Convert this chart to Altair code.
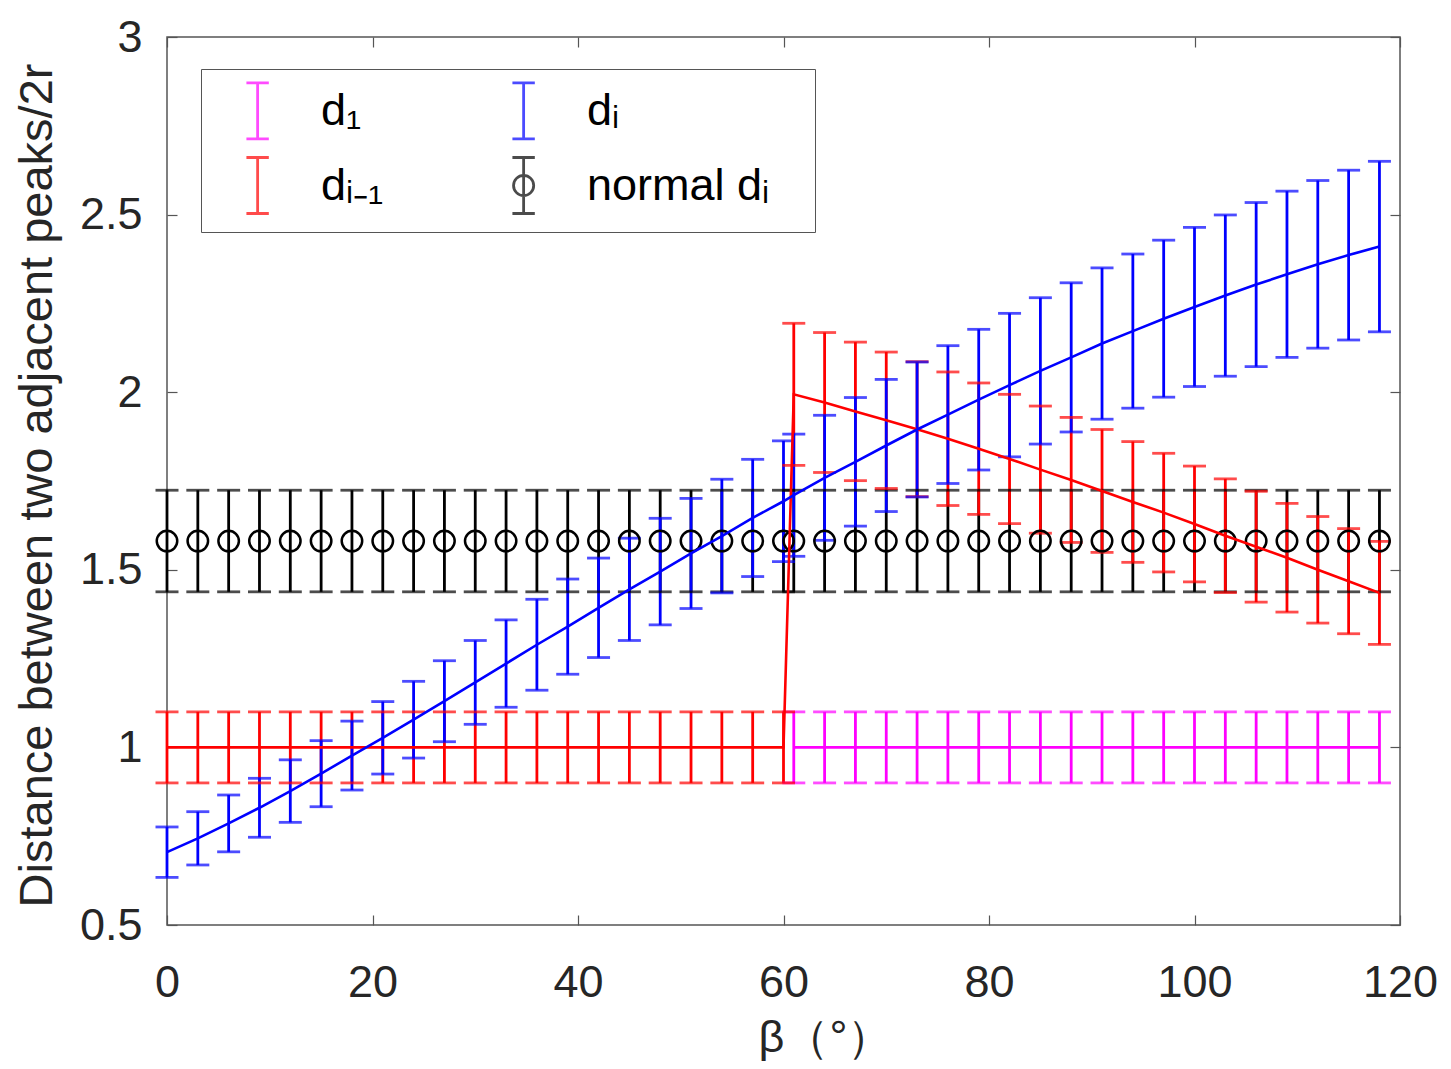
import altair as alt
import pandas as pd

# ---------------- data ----------------
beta = [0, 3, 6, 9, 12, 15, 18, 21, 24, 27, 30, 33, 36, 39, 42, 45, 48, 51, 54, 57, 60,
        61, 64, 67, 70, 73, 76, 79, 82, 85, 88, 91, 94, 97, 100, 103, 106, 109, 112, 115, 118]
beta_right = [61, 64, 67, 70, 73, 76, 79, 82, 85, 88, 91, 94, 97, 100, 103, 106, 109, 112, 115, 118]

# d_i (blue)
di_mean = [0.705, 0.744, 0.786, 0.830, 0.877, 0.926, 0.977, 1.027, 1.078, 1.130, 1.183,
           1.236, 1.289, 1.340, 1.393, 1.445, 1.495, 1.546, 1.595, 1.646, 1.693,
           1.710, 1.759, 1.804, 1.850, 1.895, 1.937, 1.979, 2.020, 2.060, 2.098,
           2.137, 2.172, 2.207, 2.240, 2.272, 2.303, 2.332, 2.360, 2.386, 2.410]
di_err = [0.071, 0.075, 0.080, 0.083, 0.088, 0.093, 0.097, 0.102, 0.108, 0.114, 0.118,
          0.123, 0.128, 0.134, 0.140, 0.144, 0.150, 0.155, 0.160, 0.165, 0.170,
          0.172, 0.176, 0.181, 0.186, 0.190, 0.194, 0.198, 0.202, 0.206, 0.210,
          0.213, 0.217, 0.221, 0.224, 0.227, 0.231, 0.234, 0.236, 0.239, 0.240]

# d_{i-1} (red)
dim1_mean = [1.0, 1.0, 1.0, 1.0, 1.0, 1.0, 1.0, 1.0, 1.0, 1.0, 1.0,
             1.0, 1.0, 1.0, 1.0, 1.0, 1.0, 1.0, 1.0, 1.0, 1.0,
             1.994, 1.971, 1.946, 1.921, 1.896, 1.869, 1.841, 1.812, 1.782, 1.753,
             1.722, 1.691, 1.661, 1.629, 1.596, 1.565, 1.534, 1.500, 1.468, 1.435]
dim1_err = [0.1, 0.1, 0.1, 0.1, 0.1, 0.1, 0.1, 0.1, 0.1, 0.1, 0.1,
            0.1, 0.1, 0.1, 0.1, 0.1, 0.1, 0.1, 0.1, 0.1, 0.1,
            0.200, 0.197, 0.195, 0.192, 0.190, 0.188, 0.185, 0.182, 0.179, 0.176,
            0.173, 0.170, 0.167, 0.163, 0.160, 0.156, 0.153, 0.150, 0.148, 0.145]

# d_1 (magenta)
d1_mean = [1.0, 1.0, 1.0, 1.0, 1.0, 1.0, 1.0, 1.0, 1.0, 1.0,
           1.0, 1.0, 1.0, 1.0, 1.0, 1.0, 1.0, 1.0, 1.0, 1.0]
d1_err = [0.1, 0.1, 0.1, 0.1, 0.1, 0.1, 0.1, 0.1, 0.1, 0.1,
          0.1, 0.1, 0.1, 0.1, 0.1, 0.1, 0.1, 0.1, 0.1, 0.1]

# normal d_i (black)
normal_mean = [1.581, 1.581, 1.581, 1.581, 1.581, 1.581, 1.581, 1.581, 1.581, 1.581, 1.581,
               1.581, 1.581, 1.581, 1.581, 1.581, 1.581, 1.581, 1.581, 1.581, 1.581,
               1.581, 1.581, 1.581, 1.581, 1.581, 1.581, 1.581, 1.581, 1.581, 1.581,
               1.581, 1.581, 1.581, 1.581, 1.581, 1.581, 1.581, 1.581, 1.581, 1.581]
normal_err = [0.143, 0.143, 0.143, 0.143, 0.143, 0.143, 0.143, 0.143, 0.143, 0.143, 0.143,
              0.143, 0.143, 0.143, 0.143, 0.143, 0.143, 0.143, 0.143, 0.143, 0.143,
              0.143, 0.143, 0.143, 0.143, 0.143, 0.143, 0.143, 0.143, 0.143, 0.143,
              0.143, 0.143, 0.143, 0.143, 0.143, 0.143, 0.143, 0.143, 0.143, 0.143]

# legend order (filled column by column): d1, d_{i-1} | d_i, normal d_i
series_names = ["d₁", "dᵢ₋₁", "dᵢ", "normal dᵢ"]
series_colors = ["#FF00FF", "#FF0000", "#0000FF", "#000000"]
x_ticks = [0, 20, 40, 60, 80, 100, 120]
y_ticks = [0.5, 1, 1.5, 2, 2.5, 3]

# ---------------- table ----------------
color_of = dict(zip(series_names, series_colors))
rows = []
for k, (name, xs_, ms, es) in enumerate([
        ("normal dᵢ", beta, normal_mean, normal_err),
        ("d₁", beta_right, d1_mean, d1_err),
        ("dᵢ₋₁", beta, dim1_mean, dim1_err),
        ("dᵢ", beta, di_mean, di_err)]):
    for x, m, e in zip(xs_, ms, es):
        rows.append({"series": name, "col": color_of[name], "beta": x, "mean": m,
                     "lo": m - e, "hi": m + e, "k": k})
df = pd.DataFrame(rows)

FONT = "Liberation Sans"
TXT = "#262626"
TICK = "#555555"

color_scale = alt.Scale(domain=series_names, range=series_colors)
bar_path = "M0.54,-1L0.54,1M0.14,-1L0.94,-1M0.14,1L0.94,1"
circ_path = bar_path + "M0.9,0A0.36,0.36 0 1 1 0.18,0A0.36,0.36 0 1 1 0.9,0"
shape_scale = alt.Scale(domain=series_names, range=[bar_path, bar_path, bar_path, circ_path])

xs = alt.Scale(domain=[0, 120], nice=False, zero=False)
ys = alt.Scale(domain=[0.5, 3], nice=False, zero=False)

axis_bottom = alt.Axis(orient="bottom", values=x_ticks, domain=False, grid=False,
                       tickSize=10, offset=-10, tickColor=TICK, tickWidth=1.2,
                       labelFlush=False, labelOverlap=False,
                       labelPadding=35, labelFontSize=45, labelFont=FONT, labelColor=TXT,
                       title="β（°）", titleFontSize=45, titleFont=FONT, titleColor=TXT,
                       titleFontWeight="normal", titleAlign="left", titleBaseline="alphabetic",
                       titleX=591, titleY=136)
axis_left = alt.Axis(orient="left", values=y_ticks, domain=False, grid=False,
                     tickSize=10, offset=-10, tickColor=TICK, tickWidth=1.2,
                     labelFlush=False, labelOverlap=False,
                     labelPadding=25, labelFontSize=45, labelFont=FONT, labelColor=TXT,
                     format="~g",
                     title="Distance between two adjacent peaks/2r", titleFontSize=47,
                     titleFont=FONT, titleColor=TXT, titleFontWeight="normal",
                     titleAngle=270, titleAlign="center", titleBaseline="alphabetic",
                     titleX=-126, titleY=448)
axis_top = alt.Axis(orient="top", values=x_ticks, domain=False, grid=False, labels=False,
                    tickSize=10, offset=-10, tickColor=TICK, tickWidth=1.2, title=None)
axis_right = alt.Axis(orient="right", values=y_ticks, domain=False, grid=False, labels=False,
                      tickSize=10, offset=-10, tickColor=TICK, tickWidth=1.2, title=None)

base = alt.Chart(df)

bars = base.mark_rule(strokeWidth=2.8).encode(
    x=alt.X("beta:Q", scale=xs, axis=axis_bottom),
    y=alt.Y("lo:Q", scale=ys, axis=axis_left),
    y2="hi:Q",
    color=alt.Color("col:N", scale=None),
    order="k:Q",
)
caps_hi = base.mark_tick(orient="horizontal", size=23, thickness=2.8).encode(
    x=alt.X("beta:Q", scale=xs, axis=None),
    y=alt.Y("hi:Q", scale=ys, axis=None),
    color=alt.Color("col:N", scale=None),
    order="k:Q",
)
caps_lo = base.mark_tick(orient="horizontal", size=23, thickness=2.8).encode(
    x=alt.X("beta:Q", scale=xs, axis=None),
    y=alt.Y("lo:Q", scale=ys, axis=None),
    color=alt.Color("col:N", scale=None),
    order="k:Q",
)
circles = base.transform_filter(alt.datum.series == "normal dᵢ").mark_point(
    shape="circle", filled=False, size=420, strokeWidth=2.5, color="#000000", opacity=1
).encode(
    x=alt.X("beta:Q", scale=xs, axis=axis_top),
    y=alt.Y("mean:Q", scale=ys, axis=axis_right),
)
lines = base.transform_filter(alt.datum.series != "normal dᵢ").mark_line(strokeWidth=2.6).encode(
    x=alt.X("beta:Q", scale=xs, axis=None),
    y=alt.Y("mean:Q", scale=ys, axis=None),
    color=alt.Color("col:N", scale=None),
    detail="series:N",
    order="beta:Q",
)

leg_props = dict(orient="none", legendX=34, legendY=32, columns=2, title=None,
                 symbolSize=3136, symbolStrokeWidth=2.8, symbolOpacity=1,
                 labelFontSize=45, labelFont=FONT, labelColor="#000000", labelLimit=500,
                 labelExpr="indexof(datum.label, 'normal') >= 0 ? datum.label + '\u2800' : datum.label",
                 labelOffset=49, padding=12, rowPadding=6, columnPadding=95,
                 strokeColor="#555555", fillColor="#FFFFFF", cornerRadius=0,
                 symbolFillColor="transparent")
legend_layer = base.mark_point(filled=False, opacity=1, size=0, strokeWidth=2.8).encode(
    x=alt.X("beta:Q", scale=xs, axis=None),
    y=alt.Y("mean:Q", scale=ys, axis=None),
    color=alt.Color("series:N", scale=color_scale, legend=alt.Legend(**leg_props)),
    shape=alt.Shape("series:N", scale=shape_scale, legend=alt.Legend(**leg_props)),
)

chart = alt.layer(bars, caps_hi, caps_lo, circles, lines, legend_layer).resolve_axis(
    x="independent", y="independent"
).properties(
    width=1233, height=888,
    autosize=alt.AutoSizeParams(type="none"),
    padding={"left": 159, "top": 29, "right": 40, "bottom": 136},
).configure_view(stroke="#555555", strokeWidth=1.5)

chart.save("out.html", embed_options={"renderer": "svg", "actions": False})
